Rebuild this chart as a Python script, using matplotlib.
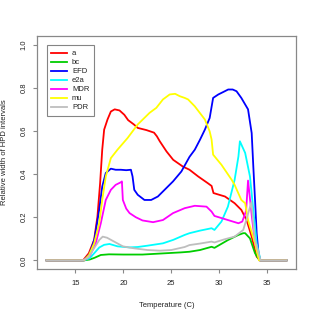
import matplotlib
matplotlib.use("Agg")
import matplotlib.pyplot as plt

plt.rcParams['font.family'] = ['Liberation Sans', 'DejaVu Sans']

a_x = [12, 15.8, 16.4, 16.95, 17.3, 17.58, 17.8, 18.0, 18.35, 18.7, 19.1, 19.6, 20.1, 20.5, 21.1, 21.5, 22.4, 23.2, 23.5, 23.8, 24.5, 25.2, 26.2, 26.9, 27.8, 28.8, 29.2, 29.4, 30.6, 31.6, 32.3, 32.85, 33.38, 33.9, 34.25, 37]
a_y = [0, 0, 0.033, 0.094, 0.203, 0.358, 0.513, 0.606, 0.653, 0.69, 0.70, 0.695, 0.675, 0.65, 0.63, 0.614, 0.604, 0.592, 0.575, 0.552, 0.505, 0.466, 0.435, 0.42, 0.389, 0.358, 0.345, 0.312, 0.296, 0.265, 0.234, 0.187, 0.11, 0.017, 0, 0]

bc_x = [12, 15.9, 16.5, 17.0, 17.65, 18.5, 20, 22, 24, 26, 26.9, 28, 29.2, 29.5, 30.9, 32.0, 32.5, 32.7, 33.2, 33.73, 34.2, 37]
bc_y = [0, 0, 0.004, 0.012, 0.025, 0.028, 0.027, 0.027, 0.032, 0.037, 0.040, 0.048, 0.063, 0.058, 0.094, 0.118, 0.126, 0.126, 0.102, 0.033, 0, 0]

efd_x = [12, 15.9, 16.5, 17.0, 17.48, 17.8, 18.17, 18.7, 19.2, 19.74, 20.3, 20.79, 20.96, 21.14, 21.5, 22.2, 22.9, 23.6, 24.3, 25.18, 26.05, 26.9, 27.45, 28.0, 28.5, 29.0, 29.36, 29.9, 30.4, 30.93, 31.4, 31.8, 32.3, 33.0, 33.38, 33.55, 33.73, 33.9, 34.1, 34.3, 37]
efd_y = [0, 0, 0.03, 0.1, 0.234, 0.342, 0.405, 0.425, 0.42, 0.42, 0.418, 0.42, 0.389, 0.327, 0.304, 0.28, 0.28, 0.296, 0.327, 0.366, 0.412, 0.48, 0.513, 0.56, 0.606, 0.66, 0.753, 0.769, 0.78, 0.792, 0.792, 0.784, 0.753, 0.70, 0.59, 0.435, 0.28, 0.126, 0.03, 0, 0]

e2a_x = [12, 15.9, 16.5, 17.0, 17.5, 18.0, 18.56, 19.4, 20.65, 21.5, 22.5, 24.13, 25.2, 26.4, 26.9, 28, 29.2, 29.5, 30.23, 30.9, 31.6, 32.0, 32.15, 32.7, 33.2, 33.55, 33.9, 34.3, 37]
e2a_y = [0, 0, 0.01, 0.035, 0.06, 0.072, 0.076, 0.065, 0.06, 0.062, 0.068, 0.079, 0.095, 0.118, 0.126, 0.138, 0.149, 0.141, 0.18, 0.249, 0.373, 0.482, 0.552, 0.498, 0.389, 0.234, 0.079, 0, 0]

mdr_x = [12, 15.9, 16.5, 17.12, 17.65, 18.17, 18.7, 19.2, 19.74, 19.85, 19.95, 20.3, 20.65, 21.3, 22.0, 23.1, 24.13, 25.18, 26.4, 27.45, 28.67, 29.2, 29.5, 30.9, 32.0, 32.4, 32.8, 33.0, 33.4, 33.73, 34.2, 37]
mdr_y = [0, 0, 0.02, 0.079, 0.172, 0.28, 0.327, 0.35, 0.362, 0.366, 0.28, 0.24, 0.219, 0.2, 0.185, 0.177, 0.187, 0.219, 0.242, 0.253, 0.249, 0.226, 0.206, 0.187, 0.172, 0.18, 0.23, 0.37, 0.203, 0.079, 0, 0]

mu_x = [12, 15.9, 16.43, 16.96, 17.48, 17.8, 18.17, 18.7, 19.39, 20.44, 21.5, 22.74, 23.44, 24.13, 24.83, 25.4, 25.88, 26.4, 26.75, 27.45, 28.5, 29.0, 29.2, 29.36, 30.23, 31.3, 31.6, 32.3, 32.7, 33.0, 33.73, 34.15, 37]
mu_y = [0, 0, 0.025, 0.079, 0.172, 0.28, 0.389, 0.474, 0.513, 0.567, 0.63, 0.684, 0.707, 0.746, 0.769, 0.772, 0.761, 0.753, 0.746, 0.714, 0.653, 0.598, 0.56, 0.49, 0.443, 0.373, 0.35, 0.28, 0.265, 0.187, 0.079, 0, 0]

pdr_x = [12, 15.8, 16.4, 17.0, 17.5, 17.85, 18.3, 19.0, 19.95, 21.1, 22.5, 23.8, 25.0, 26.4, 26.9, 28.0, 29.2, 29.5, 30.5, 31.6, 32.5, 32.9, 33.35, 33.7, 34.3, 37]
pdr_y = [0, 0, 0.015, 0.06, 0.095, 0.11, 0.105, 0.088, 0.065, 0.056, 0.048, 0.045, 0.048, 0.062, 0.071, 0.078, 0.087, 0.083, 0.097, 0.11, 0.141, 0.2, 0.27, 0.1, 0, 0]

labels = ["a", "bc", "EFD", "e2a", "MDR", "mu", "PDR"]
colors = ["#FF0000", "#00CD00", "#0000FF", "#00FFFF", "#FF00FF", "#FFFF00", "#BEBEBE"]
series = [(a_x, a_y), (bc_x, bc_y), (efd_x, efd_y), (e2a_x, e2a_y),
          (mdr_x, mdr_y), (mu_x, mu_y), (pdr_x, pdr_y)]

x_ticks = [15, 20, 25, 30, 35]
y_ticks = [0.0, 0.2, 0.4, 0.6, 0.8, 1.0]

fig = plt.figure(figsize=(3.15, 3.15), dpi=100)
ax = fig.add_axes([37/315, 1-269/315, (296-37)/315, (269-36)/315])

for (xs, ys), c, lab in zip(series, colors, labels):
    ax.plot(xs, ys, color=c, lw=1.3, label=lab)

ax.set_xlim(11, 38)
ax.set_ylim(-0.04, 1.04)
ax.set_xticks(x_ticks)
ax.set_xticklabels([str(t) for t in x_ticks])
ax.set_yticks(y_ticks)
ax.set_yticklabels(["%.1f" % t for t in y_ticks], rotation=90, va='center')

for s in ax.spines.values():
    s.set_color('#888888')
    s.set_linewidth(0.9)
ax.tick_params(axis='both', colors='#888888', labelcolor='#222222', labelsize=5.5,
               length=3, width=0.8, direction='out')
ax.tick_params(axis='x', pad=5)
ax.tick_params(axis='y', pad=4)

ax.set_xlabel("Temperature (C)", fontsize=5.5, color='#222222', labelpad=11)
ax.set_ylabel("Relative width of HPD intervals", fontsize=5.5, color='#222222', labelpad=9)

leg = ax.legend(loc='upper left', bbox_to_anchor=(46.7/315, 1-45.3/315),
                bbox_transform=fig.transFigure, fontsize=5.5, frameon=True,
                fancybox=False, handlelength=2.0, handletextpad=0.7,
                labelspacing=0.22, borderpad=0.6, borderaxespad=0)
leg.get_frame().set_edgecolor('#666666')
leg.get_frame().set_linewidth(0.8)
for t in leg.get_texts():
    t.set_color('#222222')

fig.savefig("out.png", dpi=100)
